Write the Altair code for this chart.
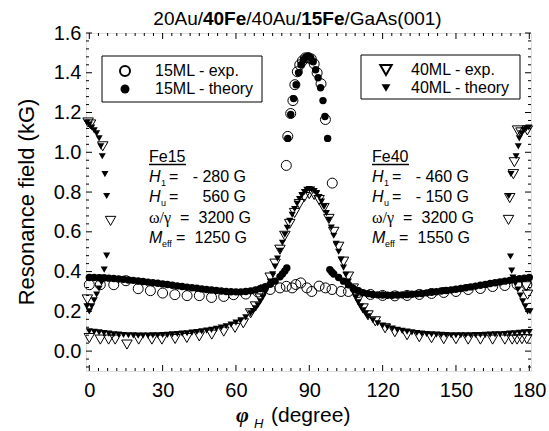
import altair as alt
import pandas as pd

# ---------------- data ----------------
# 15 ML experiment (open circles), low-field branch
exp15_low_x = [0, 4.5, 10, 15, 20, 25, 30, 35, 40, 45, 50, 55, 59, 64, 69, 74, 78, 80.6, 83, 84.5,
               86.5, 89, 91, 94, 96.6, 99.3, 103, 106, 110, 115, 120, 125, 130, 135, 140, 145,
               150, 155, 160, 165, 170, 175, 179]
exp15_low_y = [0.334, 0.334, 0.334, 0.354, 0.314, 0.304, 0.292, 0.284, 0.279, 0.279, 0.270, 0.275,
               0.284, 0.287, 0.297, 0.310, 0.318, 0.326, 0.318, 0.335, 0.343, 0.318, 0.300, 0.327,
               0.318, 0.310, 0.300, 0.300, 0.295, 0.285, 0.280, 0.278, 0.280, 0.285, 0.290, 0.295,
               0.300, 0.310, 0.315, 0.325, 0.330, 0.335, 0.334]
# 15 ML experiment, high-field branch around 90 deg
exp15_peak_x = [80.6, 81.2, 82.4, 83.3, 84.1, 85.1, 86.1, 87.2, 88.4, 89.6, 90.8, 92.0, 93.2, 94.8, 96.6, 99.4]
exp15_peak_y = [0.934, 1.080, 1.195, 1.260, 1.340, 1.405, 1.440, 1.460, 1.475, 1.475, 1.470, 1.445,
                1.400, 1.345, 1.165, 0.845]

# 15 ML theory (filled circles)
th15_left_x = [0, 2, 4, 6, 8, 10, 12, 14, 16, 18, 20, 22, 24, 26, 28, 30, 32, 34, 36, 38, 40, 42, 44,
               46, 48, 50, 52, 54, 56, 58, 60, 62, 64, 66, 68, 70, 72, 74, 76, 78, 79, 80, 80.8]
th15_left_y = [0.370, 0.370, 0.369, 0.368, 0.367, 0.365, 0.363, 0.361, 0.358, 0.356, 0.353, 0.350,
               0.347, 0.344, 0.341, 0.338, 0.335, 0.331, 0.328, 0.325, 0.322, 0.319, 0.316, 0.313,
               0.310, 0.307, 0.305, 0.302, 0.300, 0.299, 0.298, 0.298, 0.300, 0.303, 0.308, 0.315,
               0.324, 0.336, 0.352, 0.374, 0.388, 0.403, 0.418]
th15_peak_x = [81.2, 82.4, 83.6, 84.6, 85.6, 86.6, 87.6, 88.6, 89.6, 90.6, 91.6, 92.6, 93.6, 94.6, 95.6, 96.4, 97.5]
th15_peak_y = [1.070, 1.190, 1.270, 1.340, 1.400, 1.440, 1.465, 1.480, 1.485, 1.475, 1.455, 1.415,
               1.375, 1.325, 1.260, 1.180, 1.070]
th15_right_x = [98.4, 99.2, 100, 102, 104, 106, 108, 110, 112, 114, 116, 118, 120, 122, 124, 126, 128,
                130, 132, 134, 136, 138, 140, 142, 144, 146, 148, 150, 152, 154, 156, 158, 160, 162,
                164, 166, 168, 170, 172, 174, 176, 178, 180]
th15_right_y = [0.410, 0.398, 0.388, 0.370, 0.352, 0.334, 0.315, 0.302, 0.294, 0.289, 0.285, 0.283,
                0.282, 0.281, 0.281, 0.282, 0.283, 0.284, 0.286, 0.288, 0.290, 0.293, 0.296, 0.299,
                0.302, 0.305, 0.308, 0.311, 0.315, 0.319, 0.323, 0.327, 0.331, 0.335, 0.340, 0.344,
                0.348, 0.352, 0.356, 0.360, 0.364, 0.367, 0.370]

# 40 ML experiment (open down-triangles)
exp40_main_x = [0, 4.5, 7.9, 10.6, 15.4, 20.2, 25.6, 29.7, 35.1, 39.9, 45, 50.1, 55, 59.6, 63, 66, 68,
                70, 72, 74, 76, 78, 80, 82, 84, 86, 88, 90, 92, 94, 96, 98, 100, 102, 104, 106, 108,
                110, 112, 114, 117, 121, 125, 130, 135, 140, 145, 150, 155, 160, 165, 170, 173, 175,
                177, 179]
exp40_main_y = [0.066, 0.058, 0.058, 0.058, 0.033, 0.058, 0.058, 0.058, 0.061, 0.066, 0.074, 0.083,
                0.098, 0.117, 0.140, 0.190, 0.225, 0.265, 0.310, 0.370, 0.440, 0.510, 0.580, 0.640,
                0.695, 0.740, 0.775, 0.790, 0.785, 0.760, 0.720, 0.665, 0.600, 0.525, 0.450, 0.375,
                0.315, 0.260, 0.215, 0.180, 0.150, 0.115, 0.095, 0.080, 0.070, 0.065, 0.060, 0.060,
                0.058, 0.058, 0.058, 0.058, 0.058, 0.058, 0.060, 0.060]
exp40_edge_x = [-0.5, 0.5, 5.5, 8.7, -0.8, 171.5, 172.0, 173.5, 173.9, 175.2, 176.6, 179.2, 178.7, 179.3]
exp40_edge_y = [1.150, 1.140, 1.030, 0.655, 0.260, 0.660, 0.770, 0.890, 0.950, 1.110, 1.100, 1.110,
                0.326, 0.284]

# 40 ML theory (filled down-triangles)
th40_main_x = [0, 2, 4, 6, 8, 10, 12, 14, 16, 18, 20, 22, 24, 26, 28, 30, 32, 34, 36, 38, 40, 42, 44,
               46, 48, 50, 52, 54, 56, 58, 60, 62, 64, 66, 67, 68, 69, 70, 71, 72, 73, 74, 75, 76, 77,
               78, 79, 80, 81, 82, 83, 84, 85, 86, 87, 88, 89, 90, 91, 92, 93, 94, 95, 96, 97, 98,
               99, 100, 101, 102, 103, 104, 105, 106, 107, 108, 109, 110, 111, 112, 113, 114, 116,
               118, 120, 122, 124, 126, 128, 130, 132, 134, 136, 138, 140, 142, 144, 146, 148, 150,
               152, 154, 156, 158, 160, 162, 164, 166, 168, 170, 172, 174, 176, 178, 180]
th40_main_y = [0.100, 0.097, 0.094, 0.091, 0.088, 0.085, 0.083, 0.081, 0.080, 0.079, 0.078, 0.078,
               0.078, 0.079, 0.080, 0.081, 0.082, 0.084, 0.086, 0.088, 0.090, 0.093, 0.096, 0.099,
               0.103, 0.107, 0.112, 0.118, 0.125, 0.133, 0.143, 0.155, 0.170, 0.190, 0.202, 0.215,
               0.231, 0.250, 0.271, 0.295, 0.321, 0.350, 0.386, 0.425, 0.465, 0.505, 0.545, 0.585,
               0.620, 0.655, 0.686, 0.715, 0.741, 0.765, 0.784, 0.800, 0.811, 0.815, 0.812, 0.805,
               0.792, 0.775, 0.752, 0.725, 0.694, 0.660, 0.621, 0.580, 0.540, 0.500, 0.460, 0.420,
               0.384, 0.350, 0.321, 0.295, 0.269, 0.245, 0.224, 0.205, 0.189, 0.175, 0.155, 0.140,
               0.128, 0.120, 0.113, 0.107, 0.102, 0.098, 0.094, 0.091, 0.088, 0.086, 0.084, 0.083,
               0.082, 0.081, 0.080, 0.080, 0.080, 0.080, 0.080, 0.081, 0.081, 0.082, 0.083, 0.084,
               0.085, 0.086, 0.088, 0.090, 0.092, 0.094, 0.096]
th40_edge_x = [-1, 0, 1, 2, 3, 4, 4.7, 5.3, 6.4, 7.1,
               -1, 0, 1, 2, 3, 4, 5, 5.7, 6.1, 7.1,
               172.3, 172.8, 173.3, 174.3, 175.3, 176.3, 177.3, 178.3, 179.3, 180.3,
               171.6, 172.5, 174.6, 175.5, 175.9, 176.8, 177.8, 178.8, 179.8]
th40_edge_y = [1.150, 1.140, 1.125, 1.110, 1.095, 1.070, 1.030, 0.980, 0.890, 0.780,
               0.225, 0.200, 0.225, 0.255, 0.285, 0.315, 0.345, 0.370, 0.410, 0.480,
               0.476, 0.405, 0.370, 0.340, 0.310, 0.280, 0.250, 0.225, 0.200, 0.200,
               0.780, 0.890, 0.980, 1.030, 1.070, 1.095, 1.110, 1.120, 1.125]

# axis tick positions
x_major = [0, 30, 60, 90, 120, 150, 180]
y_major = [0.0, 0.2, 0.4, 0.6, 0.8, 1.0, 1.2, 1.4, 1.6]
x_minor = [i * 3.75 for i in range(49) if i % 8 != 0]
y_minor = [round(-0.08 + 0.04 * i, 2) for i in range(43) if (i - 2) % 5 != 0]

# ---------------- layout ----------------
W, H = 445, 338
FONT = "Liberation Sans"
xs = alt.Scale(domain=[-1.35, 180.7], nice=False, zero=False)
ys = alt.Scale(domain=[-0.1, 1.6], nice=False, zero=False)

ax_xlab = alt.Axis(orient="bottom", values=x_major, format="d", labelFontSize=20, labelFont=FONT,
                   labelColor="black", ticks=False, tickSize=0, domain=False, grid=False,
                   labelPadding=9, title=None)
ax_ylab = alt.Axis(orient="left", values=y_major, format=".1f", labelFontSize=20, labelFont=FONT,
                   labelColor="black", ticks=False, tickSize=0, domain=False, grid=False,
                   labelPadding=5, title=None)


def frame(xs_list, ys_list):
    return pd.DataFrame({"phi": xs_list, "B": ys_list})


df_e15 = frame(exp15_low_x + exp15_peak_x, exp15_low_y + exp15_peak_y)
df_t15 = frame(th15_left_x + th15_peak_x + th15_right_x, th15_left_y + th15_peak_y + th15_right_y)
df_e40 = frame(exp40_main_x + exp40_edge_x, exp40_main_y + exp40_edge_y)
df_t40 = frame(th40_main_x + th40_edge_x, th40_main_y + th40_edge_y)

XN = alt.X("phi:Q", scale=xs, axis=None)
YN = alt.Y("B:Q", scale=ys, axis=None)

t15 = alt.Chart(df_t15).mark_circle(size=55, color="black", opacity=1).encode(x=XN, y=YN)
t40 = alt.Chart(df_t40).mark_point(shape="triangle-down", filled=True, size=50, color="black",
                                   opacity=1).encode(x=XN, y=YN)
e15 = alt.Chart(df_e15).mark_point(shape="circle", filled=False, size=100, color="black",
                                   strokeWidth=1, opacity=1).encode(
    x=alt.X("phi:Q", scale=xs, axis=ax_xlab),
    y=alt.Y("B:Q", scale=ys, axis=ax_ylab))
e40 = alt.Chart(df_e40).mark_point(shape="triangle-down", filled=False, size=110, color="black",
                                   strokeWidth=1, opacity=1).encode(x=XN, y=YN)

layers = [t15, t40, e15, e40]

# inward ticks on all four sides, placed through the shared scales
for vals, ln in [(x_major, 6), (x_minor, 3)]:
    d = pd.DataFrame({"t": vals})
    xe = alt.X("t:Q", scale=xs, axis=None)
    layers.append(alt.Chart(d).mark_rule(color="black", strokeWidth=1).encode(
        x=xe, y=alt.value(H), y2=alt.value(H - ln)))
    layers.append(alt.Chart(d).mark_rule(color="black", strokeWidth=1).encode(
        x=xe, y=alt.value(0), y2=alt.value(ln)))
for vals, ln in [(y_major, 6), (y_minor, 3)]:
    d = pd.DataFrame({"t": vals})
    ye = alt.Y("t:Q", scale=ys, axis=None)
    layers.append(alt.Chart(d).mark_rule(color="black", strokeWidth=1).encode(
        y=ye, x=alt.value(0), x2=alt.value(ln)))
    layers.append(alt.Chart(d).mark_rule(color="black", strokeWidth=1).encode(
        y=ye, x=alt.value(W), x2=alt.value(W - ln)))

one = pd.DataFrame({"d": [0]})


def txt(s, x, y, size=16, align="left", baseline="middle", font=FONT, style="normal",
        weight="normal", angle=0):
    kw = dict(text=s, align=align, baseline=baseline, fontSize=size, font=font, color="black",
              fontStyle=style, fontWeight=weight)
    if angle:
        kw["angle"] = angle
    return alt.Chart(one).mark_text(**kw).encode(x=alt.value(x), y=alt.value(y))


# Arial advance widths (per 1000 em) used to chain title pieces
AW = {c: 556 for c in "0123456789aeudg"}
AW.update({"A": 667, "/": 278, "F": 611, "G": 778, "s": 500, "(": 333, ")": 333, " ": 278, "r": 333})


def tw(s, size):
    return sum(AW.get(c, 556) for c in s) / 1000 * size


# title with bold pieces
title_parts = [("20Au/", "normal"), ("40Fe", "bold"), ("/40Au/", "normal"), ("15Fe", "bold"),
               ("/GaAs(001)", "normal")]
TS = 19
total = sum(tw(p, TS) for p, _ in title_parts)
cx = 211.5 - total / 2
for p, wgt in title_parts:
    layers.append(txt(p, cx, -8, size=TS, baseline="alphabetic", weight=wgt))
    cx += tw(p, TS)

# axis titles
layers.append(txt("Resonance field (kG)", -52, 169, size=22, align="center", baseline="alphabetic",
                  angle=270))
layers.append(txt("φ", 150, 389, size=22, baseline="alphabetic", font="Liberation Serif",
                  style="italic", weight="bold"))
layers.append(txt("H", 168, 395, size=13, baseline="alphabetic", style="italic"))
layers.append(txt("(degree)", 185, 389, size=21, baseline="alphabetic"))

# legend boxes
for (x1, x2, y1, y2) in [(16, 176, 23, 69), (275, 434, 22, 66)]:
    layers.append(alt.Chart(one).mark_rect(fill="white", stroke="black", strokeWidth=1).encode(
        x=alt.value(x1), x2=alt.value(x2), y=alt.value(y1), y2=alt.value(y2)))

layers.append(alt.Chart(one).mark_point(shape="circle", filled=False, size=100, color="black",
                                        opacity=1).encode(x=alt.value(39), y=alt.value(38)))
layers.append(alt.Chart(one).mark_circle(size=80, color="black", opacity=1).encode(
    x=alt.value(39), y=alt.value(56)))
layers.append(alt.Chart(one).mark_point(shape="triangle-down", filled=False, size=130, color="black",
                                        opacity=1).encode(x=alt.value(300), y=alt.value(37)))
layers.append(alt.Chart(one).mark_point(shape="triangle-down", filled=True, size=80, color="black",
                                        opacity=1).encode(x=alt.value(300), y=alt.value(55)))
layers.append(txt("15ML - exp.", 69, 38))
layers.append(txt("15ML - theory", 69, 56))
layers.append(txt("40ML - exp.", 325, 37))
layers.append(txt("40ML - theory", 325, 55))

# parameter blocks
blocks = [
    (63, "Fe15", ["- 280 G", "560 G", "3200 G", "1250 G"]),
    (286, "Fe40", ["- 460 G", "- 150 G", "3200 G", "1550 G"]),
]
rows_y = [144, 164, 185, 205]
for bx, name, vals in blocks:
    layers.append(txt(name, bx, 124))
    layers.append(alt.Chart(one).mark_rule(color="black", strokeWidth=1.3).encode(
        x=alt.value(bx), x2=alt.value(bx + tw("Fe15", 16) + 0.5), y=alt.value(131.5)))
    # H1
    layers.append(txt("H", bx, rows_y[0], style="italic"))
    layers.append(txt("1", bx + 12, rows_y[0] + 6, size=9))
    layers.append(txt("=", bx + 20, rows_y[0]))
    layers.append(txt(vals[0], bx + 97, rows_y[0], align="right"))
    # Hu
    layers.append(txt("H", bx, rows_y[1], style="italic"))
    layers.append(txt("u", bx + 12, rows_y[1] + 6, size=9))
    layers.append(txt("=", bx + 20, rows_y[1]))
    layers.append(txt(vals[1], bx + 97, rows_y[1], align="right"))
    # omega / gamma
    layers.append(txt("ω/γ", bx, rows_y[2], font="Liberation Serif"))
    layers.append(txt("=", bx + 31, rows_y[2]))
    layers.append(txt(vals[2], bx + 102, rows_y[2], align="right"))
    # Meff
    layers.append(txt("M", bx, rows_y[3], style="italic"))
    layers.append(txt("eff", bx + 13, rows_y[3] + 6, size=9))
    layers.append(txt("=", bx + 27, rows_y[3]))
    layers.append(txt(vals[3], bx + 98, rows_y[3], align="right"))

chart = alt.layer(*layers).resolve_axis(x="independent", y="independent").properties(
    width=W, height=H,
    padding={"left": 86, "top": 33, "right": 18, "bottom": 60},
    autosize=alt.AutoSizeParams(type="none"),
    background="white",
).configure_view(stroke="black", strokeWidth=1).configure(font=FONT)

chart.save("out.html", embed_options={"renderer": "svg", "actions": False})
